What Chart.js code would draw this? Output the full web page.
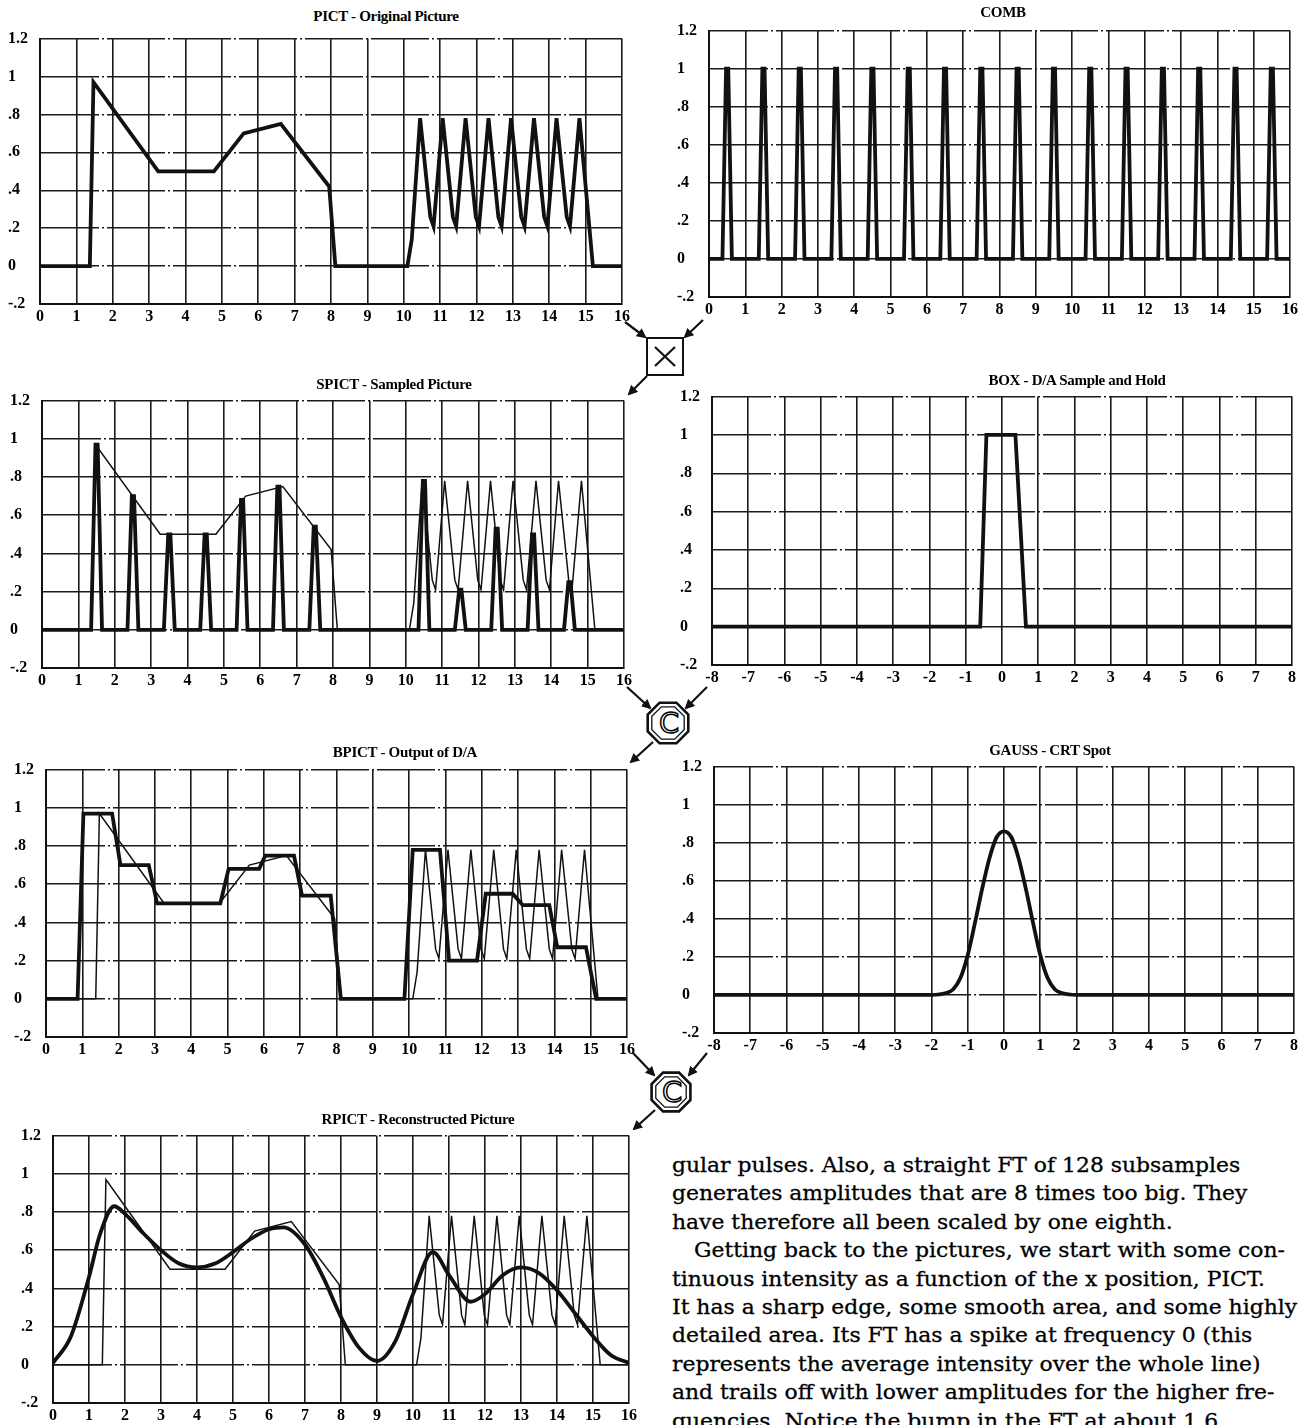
<!DOCTYPE html>
<html>
<head>
<meta charset="utf-8">
<script src="https://cdn.jsdelivr.net/npm/chart.js@4.4.0/dist/chart.umd.min.js"></script>
<style>
  html, body { margin: 0; padding: 0; background: #fff; }
  body { width: 1307px; height: 1425px; position: relative; overflow: hidden; }
  .box { position: absolute; }
  .ttl { position: absolute; font: bold 15px "Liberation Serif", serif; letter-spacing: -0.3px;
         white-space: nowrap; transform: translate(-50%, -50%); color: #000; }
  .txt { position: absolute; font: 21px "DejaVu Serif", serif; white-space: nowrap; color: #000;
         -webkit-text-stroke: 0.3px #000; transform-origin: left center; line-height: 28px; }
  #ops { position: absolute; left: 0; top: 0; pointer-events: none; }
</style>
</head>
<body>
<svg id="ops" width="1307" height="1425"></svg>
<script>
// ---- data ----
const yTickLabels = ['-.2', '0', '.2', '.4', '.6', '.8', '1', '1.2'];

// PICT - original picture
const pictX = [0, 1.37, 1.47, 3.25, 4.78, 5.6, 6.62, 7.95, 8.12, 10.1, 10.22, 10.45, 10.73, 10.82,
  11.07, 11.35, 11.44, 11.7, 11.98, 12.07, 12.33, 12.6, 12.69, 12.95, 13.23, 13.32, 13.58, 13.86,
  13.95, 14.2, 14.48, 14.57, 14.83, 15.2, 16];
const pictY = [0, 0, 0.97, 0.50, 0.50, 0.70, 0.75, 0.42, 0, 0, 0.14, 0.78, 0.26, 0.21,
  0.78, 0.26, 0.21, 0.78, 0.26, 0.21, 0.78, 0.26, 0.21, 0.78, 0.26, 0.21, 0.78, 0.26,
  0.21, 0.78, 0.26, 0.21, 0.78, 0, 0];

// COMB - sampling pulses
const combX = [0.5, 1.5, 2.5, 3.5, 4.5, 5.5, 6.5, 7.5, 8.5, 9.5, 10.5, 11.5, 12.5, 13.5, 14.5, 15.5];
const combY = [1, 1, 1, 1, 1, 1, 1, 1, 1, 1, 1, 1, 1, 1, 1, 1];

// SPICT - sampled picture
const sampleX = [1.5, 2.5, 3.5, 4.5, 5.5, 6.5, 7.5, 10.5, 11.5, 12.5, 13.5, 14.5];
const sampleY = [0.97, 0.70, 0.50, 0.50, 0.68, 0.75, 0.54, 0.78, 0.21, 0.53, 0.50, 0.25];

// BOX - sample and hold kernel
const boxX = [-8, -0.6, -0.43, 0.37, 0.66, 8];
const boxY = [0, 0, 1.0, 1.0, 0, 0];

// BPICT - output of D/A
const bpictX = [0, 0.87, 1.03, 1.82, 2.05, 2.83, 3.06, 4.8, 5.03, 5.87, 6.04, 6.83, 7.05, 7.84, 8.12,
  9.87, 10.1, 10.85, 11.1, 11.87, 12.11, 12.85, 13.13, 13.86, 14.08, 14.87, 15.15, 16];
const bpictY = [0, 0, 0.97, 0.97, 0.70, 0.70, 0.50, 0.50, 0.68, 0.68, 0.75, 0.75, 0.54, 0.54, 0,
  0, 0.78, 0.78, 0.20, 0.20, 0.55, 0.55, 0.49, 0.49, 0.27, 0.27, 0, 0];

// GAUSS - CRT spot
const gaussX = [-8, -2, -1.6, -1.4, -1.2, -1.0, -0.8, -0.6, -0.4, -0.2, 0, 0.2, 0.4, 0.6, 0.8, 1.0, 1.2, 1.4, 1.6, 2, 8];
const gaussY = [0, 0, 0.01, 0.03, 0.09, 0.21, 0.38, 0.56, 0.72, 0.83, 0.86, 0.83, 0.72, 0.56, 0.38, 0.21, 0.09, 0.03, 0.01, 0, 0];

// RPICT - reconstructed picture
const rpictX = [0, 0.5, 1.0, 1.3, 1.7, 2.0, 2.5, 3.0, 3.5, 4.0, 4.5, 5.0, 5.5, 6.0, 6.4, 7.0, 7.5, 8.0,
  8.5, 9.0, 9.5, 10.0, 10.55, 11.0, 11.6, 12.0, 12.5, 13.0, 13.5, 14.0, 14.5, 15.0, 15.5, 16];
const rpictY = [0.01, 0.15, 0.46, 0.68, 0.83, 0.79, 0.69, 0.60, 0.53, 0.51, 0.53, 0.59, 0.66, 0.71, 0.72, 0.63, 0.46, 0.25,
  0.09, 0.02, 0.12, 0.37, 0.59, 0.47, 0.33, 0.37, 0.47, 0.51, 0.48, 0.39, 0.27, 0.15, 0.05, 0.01];

const textLines = [
  'gular pulses. Also, a straight FT of 128 subsamples',
  'generates amplitudes that are 8 times too big. They',
  'have therefore all been scaled by one eighth.',
  'Getting back to the pictures, we start with some con-',
  'tinuous intensity as a function of the x position, PICT.',
  'It has a sharp edge, some smooth area, and some highly',
  'detailed area. Its FT has a spike at frequency 0 (this',
  'represents the average intensity over the whole line)',
  'and trails off with lower amplitudes for the higher fre-',
  'quencies. Notice the bump in the FT at about 1.6'
];

// ---- helpers ----
const ink = '#111';

const toPoints = (xs, ys) => xs.map((x, i) => ({ x: x, y: ys[i] }));

// narrow trapezoid pulses on a zero baseline
const pulses = (xs, ys, half, lo, hi) => {
  const pts = [{ x: lo, y: 0 }];
  xs.forEach((c, i) => {
    pts.push({ x: c - half, y: 0 }, { x: c - 0.03, y: ys[i] }, { x: c + 0.03, y: ys[i] }, { x: c + half, y: 0 });
  });
  pts.push({ x: hi, y: 0 });
  return pts;
};

const thick = (pts, smooth) => ({
  data: pts, showLine: true, pointRadius: 0, borderColor: ink, borderWidth: 3.8,
  cubicInterpolationMode: smooth ? 'monotone' : 'default', borderJoinStyle: 'miter'
});
const thin = (pts) => ({
  data: pts, showLine: true, pointRadius: 0, borderColor: ink, borderWidth: 1.5
});

const tickFont = { family: 'Liberation Serif', weight: 'bold', size: 16 };

function makeChart(plot, xMin, xMax, datasets, title, titlePos) {
  const [L, T, R, B] = plot;
  const el = document.createElement('div');
  el.className = 'box';
  el.style.left = (L - 32) + 'px';
  el.style.top = (T - 10) + 'px';
  el.style.width = (R - L + 32 + 12) + 'px';
  el.style.height = (B - T + 10 + 26) + 'px';
  const cv = document.createElement('canvas');
  el.appendChild(cv);
  document.body.appendChild(el);

  const t = document.createElement('div');
  t.className = 'ttl';
  t.textContent = title;
  t.style.left = titlePos[0] + 'px';
  t.style.top = titlePos[1] + 'px';
  document.body.appendChild(t);

  new Chart(cv, {
    type: 'scatter',
    data: { datasets: datasets },
    options: {
      responsive: true,
      maintainAspectRatio: false,
      animation: false,
      layout: { padding: { top: 10, right: 12, left: 0, bottom: 0 } },
      plugins: { legend: { display: false }, tooltip: { enabled: false } },
      scales: {
        x: {
          type: 'linear', min: xMin, max: xMax,
          ticks: { stepSize: 1, autoSkip: false, maxRotation: 0, padding: 3, color: '#000', font: tickFont,
                   callback: v => String(v) },
          grid: { color: '#1a1a1a', lineWidth: 1.6, drawTicks: false },
          border: { display: true, color: ink, width: 2 },
          afterFit: s => { s.height = 26; }
        },
        y: {
          min: -0.2, max: 1.2,
          ticks: { stepSize: 0.2, crossAlign: 'far', color: '#000', font: tickFont,
                   callback: (v, i) => yTickLabels[i] },
          grid: { color: '#1a1a1a', lineWidth: 1.5, drawTicks: false },
          border: { display: true, color: ink, width: 2, dash: [58, 3, 2, 3] },
          afterFit: s => { s.width = 32; }
        }
      }
    }
  });
}

const pict = toPoints(pictX, pictY);

makeChart([40, 36, 622, 304], 0, 16, [thick(pict)], 'PICT - Original Picture', [386, 16]);
makeChart([709, 28, 1290, 297], 0, 16, [thick(pulses(combX, combY, 0.13, 0, 16))], 'COMB', [1003, 12]);
makeChart([42, 398, 624, 668], 0, 16, [thick(pulses(sampleX, sampleY, 0.15, 0, 16)), thin(pict)],
  'SPICT - Sampled Picture', [394, 384]);
makeChart([712, 394, 1292, 665], -8, 8, [thick(toPoints(boxX, boxY))], 'BOX - D/A Sample and Hold', [1077, 380]);
makeChart([46, 767, 627, 1037], 0, 16, [thick(toPoints(bpictX, bpictY)), thin(pict)],
  'BPICT - Output of D/A', [405, 752]);
makeChart([714, 764, 1294, 1033], -8, 8, [thick(toPoints(gaussX, gaussY), true)], 'GAUSS - CRT Spot', [1050, 750]);
makeChart([53, 1133, 629, 1403], 0, 16, [thick(toPoints(rpictX, rpictY), true), thin(pict)],
  'RPICT - Reconstructed Picture', [418, 1119]);

// ---- operator symbols and arrows ----
const svg = document.getElementById('ops');
const NS = 'http://www.w3.org/2000/svg';
function add(tag, attrs, text) {
  const e = document.createElementNS(NS, tag);
  for (const k in attrs) e.setAttribute(k, attrs[k]);
  if (text) e.textContent = text;
  svg.appendChild(e);
  return e;
}
const defs = add('defs', {});
const mk = document.createElementNS(NS, 'marker');
[['id', 'ah'], ['viewBox', '0 0 10 10'], ['refX', '8'], ['refY', '5'], ['markerWidth', '4.5'],
 ['markerHeight', '4.5'], ['orient', 'auto']].forEach(([k, v]) => mk.setAttribute(k, v));
const mp = document.createElementNS(NS, 'path');
mp.setAttribute('d', 'M0,0 L10,5 L0,10 z');
mp.setAttribute('fill', ink);
mk.appendChild(mp);
defs.appendChild(mk);

const arrow = (x1, y1, x2, y2) =>
  add('line', { x1, y1, x2, y2, stroke: ink, 'stroke-width': 2.2, 'marker-end': 'url(#ah)' });

const octagon = (cx, cy, r) => {
  const pts = [];
  for (let k = 0; k < 8; k++) {
    const a = (22.5 + 45 * k) * Math.PI / 180;
    pts.push((cx + r * Math.cos(a)).toFixed(1) + ',' + (cy + r * Math.sin(a)).toFixed(1));
  }
  return pts.join(' ');
};
function convOp(cx, cy, r) {
  add('polygon', { points: octagon(cx, cy, r), fill: '#fff', stroke: ink, 'stroke-width': 2.6 });
  add('polygon', { points: octagon(cx, cy, r - 4.5), fill: 'none', stroke: ink, 'stroke-width': 1.3 });
  add('text', { x: cx + 1, y: cy + 10, 'text-anchor': 'middle', 'font-family': 'DejaVu Sans', 'font-size': 29,
                fill: '#fff', stroke: '#000', 'stroke-width': 1.5 }, 'C');
}

// multiply box
arrow(625, 322, 645, 337);
arrow(703, 320, 685, 337);
add('rect', { x: 647, y: 338, width: 36, height: 37, fill: '#fff', stroke: ink, 'stroke-width': 2 });
add('line', { x1: 655, y1: 347, x2: 675, y2: 366, stroke: ink, 'stroke-width': 2.2 });
add('line', { x1: 675, y1: 347, x2: 655, y2: 366, stroke: ink, 'stroke-width': 2.2 });
arrow(647, 376, 629, 394);

// first convolution
arrow(627, 687, 650, 708);
arrow(707, 687, 686, 708);
convOp(668, 723, 22);
arrow(653, 742, 631, 762);

// second convolution
arrow(633, 1053, 654, 1075);
arrow(707, 1053, 689, 1075);
convOp(671, 1092, 21);
arrow(655, 1110, 634, 1129);

// ---- running text ----
const measure = document.createElement('canvas').getContext('2d');
measure.font = '21px "DejaVu Serif"';
const fit = 625 / measure.measureText(textLines[5]).width;
textLines.forEach((line, i) => {
  const d = document.createElement('div');
  d.className = 'txt';
  d.textContent = line;
  d.style.left = (i === 3 ? 694 : 672) + 'px';
  d.style.top = (1151 + 28.4 * i) + 'px';
  d.style.transform = 'scaleX(' + fit.toFixed(3) + ')';
  document.body.appendChild(d);
});
</script>
</body>
</html>
